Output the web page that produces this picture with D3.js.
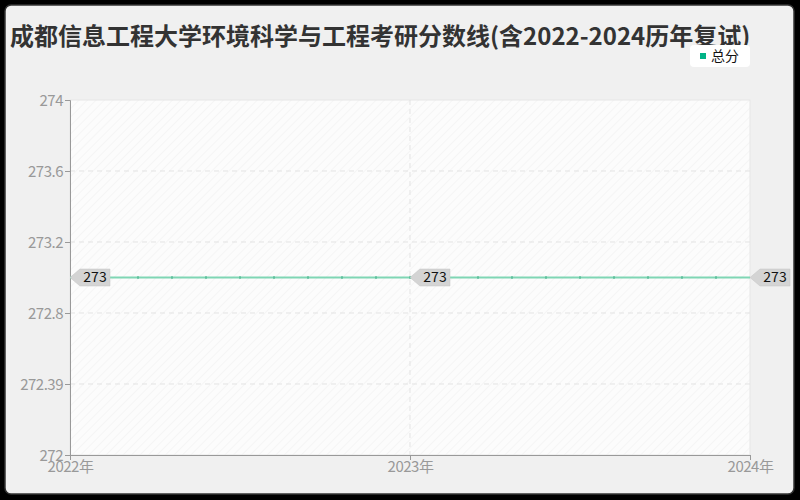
<!DOCTYPE html>
<html>
<head>
<meta charset="utf-8">
<script src="https://cdn.jsdelivr.net/npm/d3@7"></script>
<style>
  html, body { margin: 0; padding: 0; background: #000; }
  svg { display: block; font-family: "Noto Sans CJK SC", "Noto Sans", sans-serif; }
</style>
</head>
<body>
<svg id="chart" width="800" height="500"></svg>
<script>
// data
const years = [2022, 2023, 2024];
const totalScores = [273, 273, 273];
const yTickValues = [272, 272.4, 272.8, 273.2, 273.6, 274];
const yTickLabels = ["272", "272.39", "272.8", "273.2", "273.6", "274"];
const seriesName = "总分";
const title = "成都信息工程大学环境科学与工程考研分数线(含2022-2024历年复试)";

const width = 800;
const height = 500;
const margin = { top: 100, right: 50, bottom: 45, left: 70 };
const plotWidth = width - margin.left - margin.right;
const plotHeight = height - margin.top - margin.bottom;

const svg = d3.select("#chart");

// card
svg.append("rect")
  .attr("x", 5).attr("y", 5)
  .attr("width", 789).attr("height", 489)
  .attr("rx", 6)
  .attr("fill", "#f0f0f0")
  .attr("stroke", "#333")
  .attr("stroke-width", 1.5);

// hatch pattern
const defs = svg.append("defs");
const pattern = defs.append("pattern")
  .attr("id", "hatch")
  .attr("patternUnits", "userSpaceOnUse")
  .attr("width", 6).attr("height", 6)
  .attr("patternTransform", "rotate(45)");
pattern.append("rect").attr("width", 6).attr("height", 6).attr("fill", "#fcfcfc");
pattern.append("line")
  .attr("x1", 0).attr("y1", 0).attr("x2", 0).attr("y2", 6)
  .attr("stroke", "#f3f3f3").attr("stroke-width", 1.5);

// title
svg.append("text")
  .attr("x", 10).attr("y", 45)
  .attr("font-size", 24)
  .attr("font-weight", "bold")
  .attr("fill", "#333")
  .text(title);

const plot = svg.append("g")
  .attr("transform", `translate(${margin.left}, ${margin.top})`);

plot.append("rect")
  .attr("width", plotWidth).attr("height", plotHeight)
  .attr("fill", "url(#hatch)")
  .attr("stroke", "#e6e6e6");

// scales
const xScale = d3.scaleLinear().domain(d3.extent(years)).range([0, plotWidth]);
const yScale = d3.scaleLinear().domain([272, 274]).range([plotHeight, 0]);

// grid
plot.append("g")
  .selectAll("line")
  .data(yTickValues.slice(1, -1))
  .join("line")
  .attr("x1", 0).attr("x2", plotWidth)
  .attr("y1", (d) => yScale(d)).attr("y2", (d) => yScale(d))
  .attr("stroke", "#e3e3e3")
  .attr("stroke-dasharray", "5,4");

plot.append("g")
  .selectAll("line")
  .data(years.slice(1, -1))
  .join("line")
  .attr("x1", (d) => xScale(d)).attr("x2", (d) => xScale(d))
  .attr("y1", 0).attr("y2", plotHeight)
  .attr("stroke", "#e3e3e3")
  .attr("stroke-dasharray", "5,4");

// axes
const yAxis = d3.axisLeft(yScale)
  .tickValues(yTickValues)
  .tickFormat((d, i) => yTickLabels[i])
  .tickSizeOuter(0)
  .tickSize(5);
const xAxis = d3.axisBottom(xScale)
  .tickValues(years)
  .tickFormat((d) => `${d}年`)
  .tickSizeOuter(0)
  .tickSize(5);

const yAxisG = plot.append("g").call(yAxis);
const xAxisG = plot.append("g")
  .attr("transform", `translate(0, ${plotHeight})`)
  .call(xAxis);

[yAxisG, xAxisG].forEach((g) => {
  g.select(".domain").attr("stroke", "#999");
  g.selectAll(".tick line").attr("stroke", "#999");
  g.selectAll(".tick text")
    .attr("fill", "#999")
    .attr("font-size", 15)
    .attr("letter-spacing", -0.5)
    .attr("font-family", "'Noto Sans CJK SC', sans-serif");
});
yAxisG.selectAll(".tick text").attr("x", -7).attr("dy", "0.35em");
xAxisG.selectAll(".tick text").attr("y", 6).attr("dy", "0.75em");

// line
const lineData = years.map((y, i) => ({ x: y, v: totalScores[i] }));
const lineGen = d3.line().x((d) => xScale(d.x)).y((d) => yScale(d.v));

plot.append("path")
  .datum(lineData)
  .attr("d", lineGen)
  .attr("fill", "none")
  .attr("stroke", "#7fd6b4")
  .attr("stroke-width", 2);

// small marks along the line
const markXs = d3.range(0, 21).map((i) => years[0] + i * (years[2] - years[0]) / 20);
plot.append("g")
  .selectAll("line")
  .data(markXs.slice(1, -1))
  .join("line")
  .attr("x1", (d) => xScale(d)).attr("x2", (d) => xScale(d))
  .attr("y1", yScale(273) - 1.5).attr("y2", yScale(273) + 1.5)
  .attr("stroke", "#3fae86")
  .attr("stroke-width", 1);

// labels
const labels = plot.append("g")
  .selectAll("g")
  .data(lineData)
  .join("g")
  .attr("transform", (d) => `translate(${xScale(d.x)}, ${yScale(d.v)})`);

labels.append("path")
  .attr("d", "M0,0 L10,-8.5 L40,-8.5 L40,8.5 L10,8.5 Z")
  .attr("fill", "#d4d4d4")
  .attr("stroke", "#c4c4c4")
  .attr("stroke-width", 0.5);

labels.append("text")
  .attr("x", 25)
  .attr("y", 0)
  .attr("dy", "0.35em")
  .attr("text-anchor", "middle")
  .attr("font-size", 14)
  .attr("fill", "#111")
  .text((d) => d.v);

// legend
const legend = svg.append("g").attr("transform", "translate(690, 45)");
legend.append("rect")
  .attr("width", 60).attr("height", 22)
  .attr("rx", 4)
  .attr("fill", "#fff");
legend.append("rect")
  .attr("x", 10).attr("y", 8)
  .attr("width", 6).attr("height", 6)
  .attr("fill", "#00b386");
legend.append("text")
  .attr("x", 21).attr("y", 11)
  .attr("dy", "0.35em")
  .attr("font-size", 14)
  .attr("fill", "#111")
  .text(seriesName);
</script>
</body>
</html>
